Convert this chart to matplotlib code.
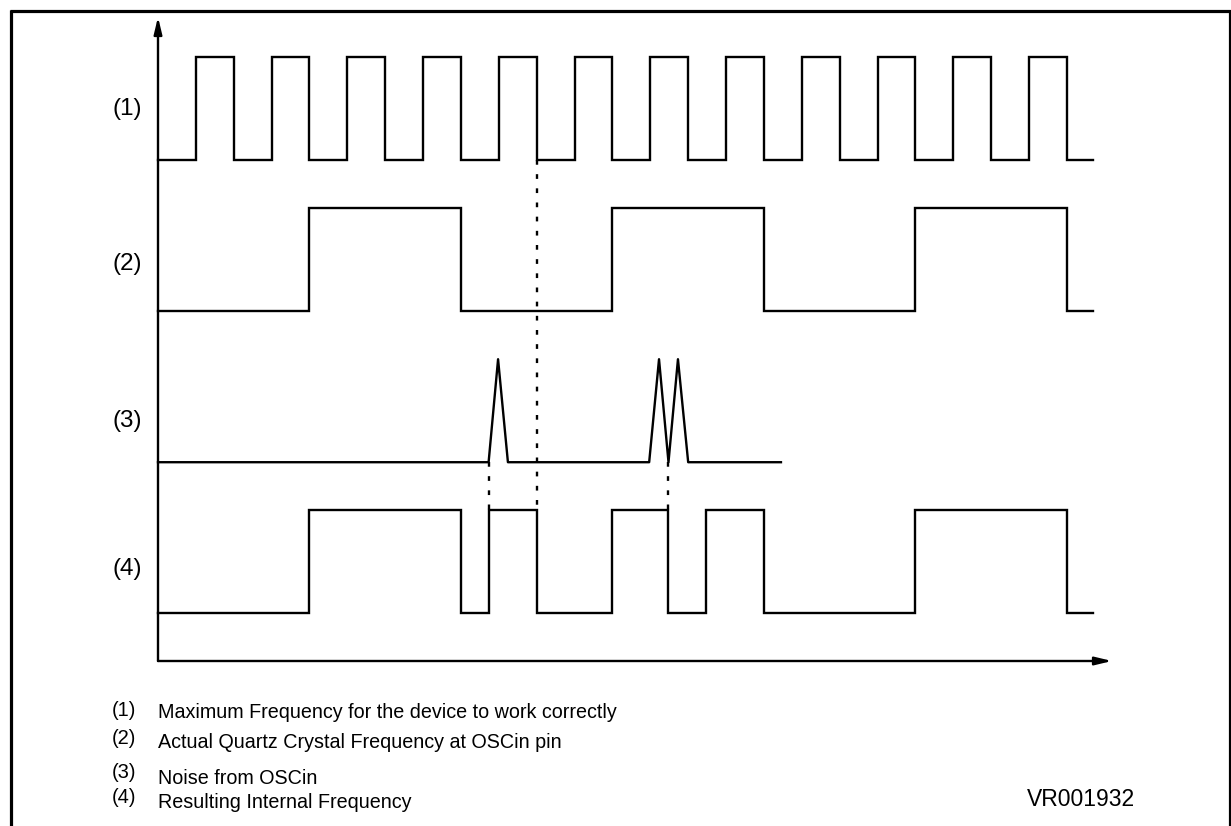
import matplotlib
matplotlib.use("Agg")
import matplotlib.pyplot as plt
from matplotlib.lines import Line2D

plt.rcParams['font.family'] = ['Liberation Sans', 'DejaVu Sans']

# ---- data (time in half-periods of signal 1) ----
SIG1_EDGES = [1, 2, 3, 4, 5, 6, 7, 8, 9, 10, 11, 12,
              13, 14, 15, 16, 17, 18, 19, 20, 21, 22, 23, 24]
SIG2_EDGES = [4, 8, 12, 16, 20, 24]
SIG4_EDGES = [4, 8, 8.74, 10, 12, 13.47, 14.47, 16, 20, 24]
SIG_END = 24.7
NOISE_T = [0, 8.73, 8.98, 9.24, 12.97, 13.23, 13.48, 13.73, 14.0, 16.45]
NOISE_V = [0, 0, 1, 0, 0, 1, 0, 1, 0, 0]
# dotted guides: (time, from lane, to lane high)
GUIDE_T = [10, 8.74, 13.47]
GUIDE_FROM = [0, 2, 2]

SIGNAL_LABELS = ["(1)", "(2)", "(3)", "(4)"]
NOTE_KEYS = ["(1)", "(2)", "(3)", "(4)"]
NOTES = ["Maximum Frequency for the device to work correctly",
         "Actual Quartz Crystal Frequency at OSCin pin",
         "Noise from OSCin",
         "Resulting Internal Frequency"]
FIG_ID = "VR001932"

# ---- layout ----
W, H = 1231, 826
LANE_BASE = [4.86, 3.40, 1.93, 0.47]
X0_PX, XSCALE = 158, 37.87
Y0_PX, YSCALE = 661, 103


def square(edges, end):
    xs, ys = [0], [0]
    lvl = 0
    for e in edges:
        xs += [e, e]
        ys += [lvl, 1 - lvl]
        lvl = 1 - lvl
    xs.append(end)
    ys.append(lvl)
    return xs, ys


fig = plt.figure(figsize=(W / 100, H / 100), dpi=100)
ax = fig.add_axes([0, 0, 1, 1])
ax.set_xlim(-X0_PX / XSCALE, (W - X0_PX) / XSCALE)
ax.set_ylim((Y0_PX - H) / YSCALE, Y0_PX / YSCALE)
ax.axis("off")

LW = 1.7
for edges, base in [(SIG1_EDGES, LANE_BASE[0]), (SIG2_EDGES, LANE_BASE[1]),
                    (SIG4_EDGES, LANE_BASE[3])]:
    xs, ys = square(edges, SIG_END)
    ax.plot(xs, [base + y for y in ys], color="black", lw=LW,
            solid_joinstyle="miter")
ax.plot(NOISE_T, [LANE_BASE[2] + v for v in NOISE_V], color="black", lw=LW)

for t, src in zip(GUIDE_T, GUIDE_FROM):
    ax.plot([t, t], [LANE_BASE[src], LANE_BASE[3] + 1], color="black",
            lw=LW, linestyle=(0, (2, 4)))

# axes with arrows
arrow = dict(arrowstyle="-|>,head_length=0.5,head_width=0.12",
             mutation_scale=20, lw=LW, color="black",
             shrinkA=0, shrinkB=0)
ax.annotate("", xy=(0, (Y0_PX - 17) / YSCALE), xytext=(0, 0),
            arrowprops=arrow)
ax.annotate("", xy=((1112 - X0_PX) / XSCALE, 0), xytext=(0, 0),
            arrowprops=arrow)

# frame (top, left, right)
fig.add_artist(Line2D([9.5 / W, 1], [1 - 10.5 / H] * 2, color="black",
                      lw=2.3, solid_capstyle="butt",
                      transform=fig.transFigure))
fig.add_artist(Line2D([10.5 / W] * 2, [0, 1 - 9.5 / H], color="black",
                      lw=2.3, solid_capstyle="butt",
                      transform=fig.transFigure))
fig.add_artist(Line2D([1230 / W] * 2, [0, 1 - 9.5 / H], color="black",
                      lw=2.3, solid_capstyle="butt",
                      transform=fig.transFigure))

# lane labels
for lab, yc in zip(SIGNAL_LABELS, [107, 262, 418, 567]):
    fig.text(127 / W, 1 - (yc + 8.5) / H, lab, ha="center", va="baseline",
             fontsize=17.5)

# notes
for key, txt, yk, yt in zip(NOTE_KEYS, NOTES, [709, 737, 771, 796],
                            [711, 741, 777, 801]):
    fig.text(112 / W, 1 - (yk + 7) / H, key, ha="left", va="baseline",
             fontsize=14.5)
    fig.text(158 / W, 1 - (yt + 7) / H, txt, ha="left", va="baseline",
             fontsize=14.2)

fig.text(1027 / W, 1 - 806 / H, FIG_ID, ha="left", va="baseline",
         fontsize=16.5)

fig.savefig("out.png", dpi=100)
